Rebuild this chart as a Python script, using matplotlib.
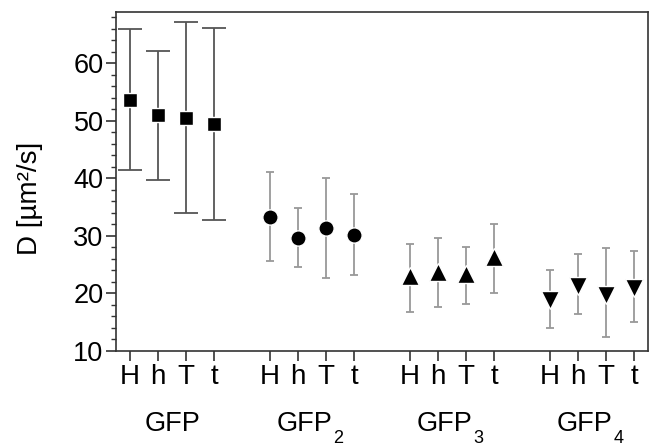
import matplotlib
matplotlib.use("Agg")
import matplotlib.pyplot as plt
from matplotlib.ticker import MultipleLocator
from matplotlib.transforms import offset_copy

plt.rcParams['font.family'] = ['Liberation Sans', 'DejaVu Sans']

# data
conditions = ['H', 'h', 'T', 't']
groups = ['GFP', 'GFP', 'GFP', 'GFP']
group_subs = ['', '2', '3', '4']
markers = ['s', 'o', '^', 'v']
means = [
    [53.6, 50.9, 50.4, 49.4],
    [33.3, 29.5, 31.3, 30.1],
    [22.9, 23.7, 23.3, 26.2],
    [18.8, 21.3, 19.7, 20.8],
]
upper = [
    [65.9, 62.1, 67.1, 66.1],
    [41.0, 34.8, 40.0, 37.2],
    [28.6, 29.5, 28.1, 32.0],
    [24.0, 26.8, 27.8, 27.3],
]
lower = [
    [41.4, 39.7, 33.9, 32.7],
    [25.6, 24.6, 22.7, 23.2],
    [16.7, 17.5, 18.1, 20.0],
    [14.0, 16.4, 12.3, 14.9],
]
err_colors = ['#555555', '#999999', '#999999', '#999999']
cap_sizes = [8.3, 3, 3, 3]
marker_sizes = [10, 11, 13, 13]

fig = plt.figure(figsize=(6.5, 4.46), dpi=100)
ax = fig.add_axes([0.1785, 0.214, 0.8185, 0.759])

xpos_all = []
for g in range(len(groups)):
    xs = [g * 5 + k for k in range(len(conditions))]
    xpos_all += xs
    m = means[g]
    yerr = [[m[k] - lower[g][k] for k in range(4)], [upper[g][k] - m[k] for k in range(4)]]
    ax.errorbar(xs, m, yerr=yerr, fmt='none', ecolor=err_colors[g],
                elinewidth=1.3, capsize=cap_sizes[g], capthick=1.3, zorder=2)
    ax.plot(xs, m, linestyle='none', marker=markers[g], color='black',
            markersize=marker_sizes[g], markeredgecolor='white',
            markeredgewidth=1.0, zorder=3)

    # group label, subscript drawn separately so it sits below the baseline
    shift = -8 if group_subs[g] else 0
    tr = offset_copy(ax.get_xaxis_transform(), fig=fig, x=shift, y=0, units='dots')
    lab = ax.text(g * 5 + 1.5, -0.217, groups[g], transform=tr,
                  ha='center', va='center', fontsize=19.5)
    if group_subs[g]:
        ax.annotate(group_subs[g], xy=(1, 0), xycoords=lab, xytext=(1, 5),
                    textcoords='offset points', ha='left', va='top', fontsize=13)

ax.set_xlim(-0.5, 18.5)
ax.set_ylim(10, 68.9)
ax.set_xticks(xpos_all)
ax.set_xticklabels(conditions * len(groups), fontsize=20)
ax.yaxis.set_major_locator(MultipleLocator(10))
ax.yaxis.set_minor_locator(MultipleLocator(2))
ax.tick_params(axis='y', labelsize=19.5, direction='out', length=7, width=1.2,
               color='#333333', pad=2)
ax.tick_params(axis='y', which='minor', direction='out', length=3.5, width=1.0, color='#333333')
ax.tick_params(axis='x', direction='out', length=7, width=1.2, color='#333333', pad=3)
ax.set_ylabel('D [µm²/s]', fontsize=20)
ax.yaxis.set_label_coords(-0.137, 0.45)

for s in ax.spines.values():
    s.set_color('#333333')
    s.set_linewidth(1.2)

fig.savefig('out.png', dpi=100)
